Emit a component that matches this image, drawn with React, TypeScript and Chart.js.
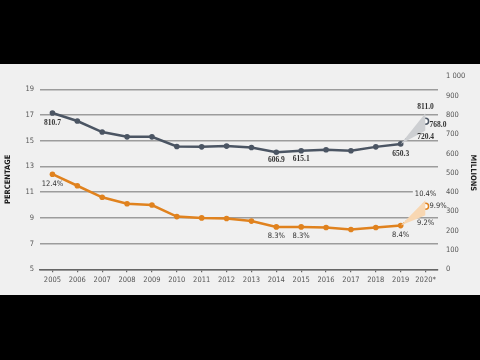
import React, { useEffect, useRef } from 'react';
import { Chart, registerables } from 'chart.js';

Chart.register(...registerables);

const years = ['2005', '2006', '2007', '2008', '2009', '2010', '2011', '2012', '2013', '2014', '2015', '2016', '2017', '2018', '2019', '2020*'];
const millions = [810.7, 769, 712, 687, 687, 637, 635, 639, 632, 606.9, 615.1, 620, 615, 635, 650.3];
const percent = [12.4, 11.5, 10.6, 10.1, 10.0, 9.1, 9.0, 8.95, 8.75, 8.3, 8.3, 8.25, 8.1, 8.25, 8.4];
const millionsProj = { mid: 768.0, low: 720.4, high: 811.0 };
const percentProj = { mid: 9.9, low: 9.2, high: 10.4 };
const leftTicks = [5, 7, 9, 11, 13, 15, 17, 19];

const GRAY = '#4b5563';
const ORANGE = '#e0821e';
const NARROW = "'Liberation Sans Narrow', 'DejaVu Sans Condensed', 'Liberation Sans', sans-serif";

const last = millions.length - 1; // index of 2019
const pad = (n: number) => Array(n).fill(null);
const projSeries = (base: number, end: number) => [...pad(last), base, end];

export default function App() {
  const ref = useRef<HTMLCanvasElement>(null);

  useEffect(() => {
    const canvas = ref.current!;

    const grayLabels = [
      { i: 0, v: millions[0], dx: 0, dy: 10, align: 'center' },
      { i: 9, v: millions[9], dx: 0, dy: 8, align: 'center' },
      { i: 10, v: millions[10], dx: 0, dy: 8, align: 'center' },
      { i: last, v: millions[last], dx: 0, dy: 10, align: 'center' },
      { i: last + 1, v: millionsProj.high, dx: 0, dy: -6, align: 'center' },
      { i: last + 1, v: millionsProj.mid, dx: 4, dy: 4, align: 'left' },
      { i: last + 1, v: millionsProj.low, dx: 0, dy: 7, align: 'center' },
    ];
    const orangeLabels = [
      { i: 0, v: percent[0], dx: 0, dy: 10, align: 'center', bg: false },
      { i: 9, v: percent[9], dx: 0, dy: 9, align: 'center', bg: false },
      { i: 10, v: percent[10], dx: 0, dy: 9, align: 'center', bg: false },
      { i: last, v: percent[last], dx: 0, dy: 9, align: 'center', bg: false },
      { i: last + 1, v: percentProj.high, dx: 0, dy: -6, align: 'center', bg: true },
      { i: last + 1, v: percentProj.mid, dx: 4, dy: 0, align: 'left', bg: false },
      { i: last + 1, v: percentProj.low, dx: 0, dy: 8, align: 'center', bg: false },
    ];

    const labelPlugin = {
      id: 'labels',
      afterDatasetsDraw(chart: any) {
        const ctx = chart.ctx;
        const xs = chart.scales.x;
        const yl = chart.scales.y;
        const yr = chart.scales.y1;
        ctx.save();
        ctx.textBaseline = 'middle';
        ctx.font = "bold 7.5px 'Liberation Serif', serif";
        ctx.fillStyle = '#333';
        for (const l of grayLabels) {
          const px = xs.getPixelForValue(l.i) + l.dx;
          const py = yr.getPixelForValue(l.v) + l.dy;
          ctx.textAlign = l.align;
          ctx.fillText(l.v.toFixed(1), px, py);
        }
        ctx.font = `7.5px ${NARROW}`;
        for (const l of orangeLabels) {
          const px = xs.getPixelForValue(l.i) + l.dx;
          const py = yl.getPixelForValue(l.v) + l.dy;
          const t = l.v.toFixed(1) + '%';
          ctx.textAlign = l.align;
          if (l.bg) {
            const w = ctx.measureText(t).width;
            ctx.fillStyle = '#f0f0f0';
            ctx.fillRect(px - w / 2 - 2, py - 5, w + 4, 10);
          }
          ctx.fillStyle = '#333';
          ctx.fillText(t, px, py);
        }
        // axis titles
        ctx.font = `bold 7.5px ${NARROW}`;
        ctx.fillStyle = '#222';
        ctx.textAlign = 'center';
        const cyL = (yl.getPixelForValue(leftTicks[0]) + yl.getPixelForValue(leftTicks[leftTicks.length - 1])) / 2;
        ctx.save();
        ctx.translate(8, cyL);
        ctx.rotate(-Math.PI / 2);
        ctx.fillText('PERCENTAGE', 0, 0);
        ctx.restore();
        const cyR = (chart.chartArea.top + chart.chartArea.bottom) / 2;
        ctx.save();
        ctx.translate(473, cyR);
        ctx.rotate(Math.PI / 2);
        ctx.fillText('MILLIONS', 0, 0);
        ctx.restore();
        ctx.restore();
      },
    };

    const chart = new Chart(canvas, {
      type: 'line',
      data: {
        labels: years,
        datasets: [
          { data: projSeries(millions[last], millionsProj.high), yAxisID: 'y1', borderWidth: 0, pointRadius: 0, fill: false, borderColor: 'rgba(0,0,0,0)' },
          { data: projSeries(millions[last], millionsProj.low), yAxisID: 'y1', borderWidth: 0, pointRadius: 0, fill: '-1', backgroundColor: '#cdcfd2', borderColor: 'rgba(0,0,0,0)' },
          { data: projSeries(percent[last], percentProj.high), yAxisID: 'y', borderWidth: 0, pointRadius: 0, fill: false, borderColor: 'rgba(0,0,0,0)' },
          { data: projSeries(percent[last], percentProj.low), yAxisID: 'y', borderWidth: 0, pointRadius: 0, fill: '-1', backgroundColor: '#f8d7b2', borderColor: 'rgba(0,0,0,0)' },
          {
            data: projSeries(millions[last], millionsProj.mid), yAxisID: 'y1', borderColor: GRAY, borderWidth: 1.6, borderDash: [1.6, 1.6],
            pointRadius: [...pad(last).map(() => 0), 0, 3], pointBackgroundColor: '#fff', pointBorderColor: GRAY, pointBorderWidth: 1.5, fill: false,
          },
          {
            data: projSeries(percent[last], percentProj.mid), yAxisID: 'y', borderColor: ORANGE, borderWidth: 1.6, borderDash: [1.6, 1.6],
            pointRadius: [...pad(last).map(() => 0), 0, 3], pointBackgroundColor: '#fff', pointBorderColor: ORANGE, pointBorderWidth: 1.5, fill: false,
          },
          { data: [...millions, null], yAxisID: 'y1', borderColor: GRAY, backgroundColor: GRAY, borderWidth: 2.5, pointRadius: 2.8, pointBackgroundColor: GRAY, pointBorderWidth: 0, fill: false, tension: 0 },
          { data: [...percent, null], yAxisID: 'y', borderColor: ORANGE, backgroundColor: ORANGE, borderWidth: 2.5, pointRadius: 2.8, pointBackgroundColor: ORANGE, pointBorderWidth: 0, fill: false, tension: 0 },
        ],
      },
      options: {
        animation: false,
        responsive: false,
        devicePixelRatio: 1,
        layout: { padding: { top: 6, left: 0, right: 0, bottom: 0 } },
        plugins: { legend: { display: false }, tooltip: { enabled: false } },
        scales: {
          x: {
            type: 'category',
            offset: true,
            grid: { drawOnChartArea: false, drawTicks: true, tickLength: 3, color: '#666', lineWidth: 1.2, offset: false },
            border: { display: true, color: '#666', width: 1.5 },
            ticks: { color: '#555', font: { size: 7.5, family: NARROW }, padding: 3, maxRotation: 0, autoSkip: false },
            afterFit: (s: any) => { s.height = 25.7; },
          },
          y: {
            position: 'left',
            min: 5,
            max: 20,
            afterBuildTicks: (s: any) => { s.ticks = leftTicks.map((v) => ({ value: v })); },
            grid: { color: '#9c9c9c', lineWidth: 1.5, drawTicks: false },
            border: { display: false },
            ticks: { color: '#555', font: { size: 7.5, family: NARROW }, padding: 6 },
            afterFit: (s: any) => { s.width = 40; },
          },
          y1: {
            position: 'right',
            min: 0,
            max: 1000,
            grid: { display: false, drawTicks: false },
            border: { display: false },
            ticks: {
              stepSize: 100,
              color: '#555',
              font: { size: 7.5, family: NARROW },
              padding: 8,
              callback: (v: any) => (v === 1000 ? '1 000' : String(v)),
            },
            afterFit: (s: any) => { s.width = 42; },
          },
        },
      },
      plugins: [labelPlugin],
    } as any);

    return () => chart.destroy();
  }, []);

  return (
    <div style={{ position: 'fixed', left: 0, top: 0, width: 480, height: 360, background: '#000' }}>
      <div style={{ position: 'absolute', left: 0, top: 64, width: 480, height: 231, background: '#f0f0f0' }}>
        <canvas ref={ref} width={480} height={231} style={{ display: 'block', width: 480, height: 231 }} />
      </div>
    </div>
  );
}
